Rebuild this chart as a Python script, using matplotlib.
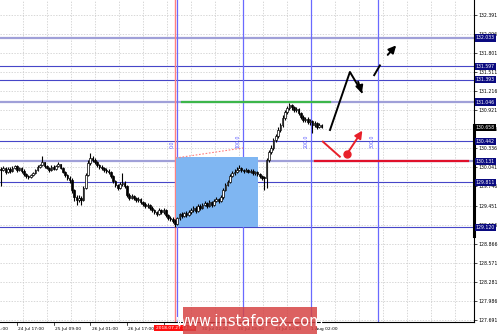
import matplotlib
matplotlib.use("Agg")
import matplotlib.pyplot as plt
import matplotlib.transforms as mtransforms
from matplotlib.patches import Rectangle

# H1 closes, bar 0 = 24 Jul 10:00
closes = [
    130.00, 130.03, 129.97, 130.02, 129.99, 130.03, 130.06, 130.00, 130.03, 129.99,
    129.94, 129.91, 129.89, 129.92, 129.95, 130.00, 130.05, 130.08, 130.12, 130.06,
    130.03, 130.00, 130.05, 130.02, 130.06, 130.09, 130.03, 129.97, 129.92, 129.88,
    129.85, 129.69, 129.58, 129.54, 129.57, 129.54, 129.72, 129.92, 130.11, 130.19,
    130.15, 130.12, 130.08, 130.05, 130.03, 130.00, 129.99, 129.97, 129.91, 129.83,
    129.77, 129.72, 129.79, 129.80, 129.75, 129.62, 129.57, 129.60, 129.57, 129.54,
    129.55, 129.51, 129.48, 129.45, 129.46, 129.42, 129.38, 129.35, 129.32, 129.38,
    129.35, 129.38, 129.31, 129.26, 129.25, 129.22, 129.17, 129.26, 129.32, 129.29,
    129.34, 129.31, 129.35, 129.38, 129.42, 129.37, 129.45, 129.42, 129.46, 129.49,
    129.45, 129.51, 129.46, 129.52, 129.55, 129.52, 129.58, 129.69, 129.77, 129.82,
    129.91, 129.95, 129.97, 130.00, 130.03, 130.00, 129.99, 130.00, 129.97, 129.99,
    129.95, 129.97, 129.94, 129.91, 129.88, 129.88, 130.15, 130.28, 130.34, 130.46,
    130.52, 130.62, 130.69, 130.80, 130.89, 130.95, 131.00, 130.97, 130.92, 130.94,
    130.88, 130.82, 130.77, 130.79, 130.74, 130.75, 130.69, 130.72, 130.66, 130.69,
    130.658,
]
highs = [
    130.05, 130.06, 130.05, 130.04, 130.04, 130.06, 130.08, 130.07, 130.05, 130.04,
    130.01, 129.96, 129.93, 129.94, 129.97, 130.02, 130.07, 130.10, 130.21, 130.13,
    130.08, 130.05, 130.07, 130.07, 130.08, 130.12, 130.10, 130.04, 129.99, 129.94,
    129.90, 129.87, 129.71, 129.61, 129.62, 129.60, 129.75, 129.95, 130.15, 130.26,
    130.22, 130.18, 130.14, 130.10, 130.07, 130.05, 130.03, 130.01, 129.99, 129.93,
    129.85, 129.79, 129.82, 129.95, 129.83, 129.77, 129.64, 129.63, 129.62, 129.59,
    129.58, 129.57, 129.53, 129.50, 129.49, 129.48, 129.44, 129.40, 129.37, 129.41,
    129.40, 129.41, 129.40, 129.33, 129.29, 129.27, 129.24, 129.28, 129.34, 129.35,
    129.36, 129.37, 129.38, 129.41, 129.45, 129.44, 129.48, 129.47, 129.49, 129.52,
    129.51, 129.54, 129.53, 129.55, 129.58, 129.57, 129.61, 129.72, 129.80, 129.85,
    129.94, 129.99, 130.02, 130.05, 130.07, 130.05, 130.02, 130.03, 130.02, 130.01,
    130.01, 129.99, 129.99, 129.96, 129.93, 129.91, 130.18, 130.31, 130.38, 130.49,
    130.56, 130.66, 130.73, 130.84, 130.93, 130.99, 131.03, 131.02, 130.99, 130.97,
    130.95, 130.90, 130.84, 130.82, 130.81, 130.78, 130.77, 130.75, 130.74, 130.72,
    130.71,
]
lows = [
    129.75, 129.98, 129.94, 129.95, 129.96, 129.97, 130.01, 129.97, 129.98, 129.96,
    129.91, 129.88, 129.86, 129.87, 129.90, 129.94, 129.98, 130.03, 130.06, 130.03,
    130.01, 129.97, 129.98, 130.00, 130.00, 130.04, 130.01, 129.95, 129.89, 129.85,
    129.80, 129.65, 129.52, 129.46, 129.50, 129.46, 129.52, 129.70, 129.90, 130.08,
    130.12, 130.09, 130.05, 130.02, 130.00, 129.97, 129.96, 129.94, 129.88, 129.80,
    129.74, 129.69, 129.70, 129.76, 129.72, 129.59, 129.54, 129.55, 129.54, 129.51,
    129.51, 129.48, 129.45, 129.42, 129.42, 129.39, 129.35, 129.32, 129.29, 129.30,
    129.32, 129.33, 129.28, 129.23, 129.21, 129.18, 129.12, 129.15, 129.23, 129.26,
    129.27, 129.28, 129.29, 129.33, 129.36, 129.34, 129.35, 129.39, 129.40, 129.44,
    129.42, 129.43, 129.43, 129.44, 129.50, 129.49, 129.50, 129.56, 129.67, 129.75,
    129.80, 129.89, 129.93, 129.95, 129.98, 129.97, 129.96, 129.97, 129.95, 129.95,
    129.93, 129.93, 129.91, 129.88, 129.84, 129.69, 129.72, 130.12, 130.25, 130.31,
    130.43, 130.49, 130.59, 130.66, 130.77, 130.86, 130.92, 130.93, 130.89, 130.90,
    130.85, 130.79, 130.74, 130.74, 130.71, 130.70, 130.57, 130.66, 130.63, 130.64,
    130.64,
]
first_open = 130.02

price_ticks = [132.391, 132.096, 131.801, 131.511, 131.216, 130.921, 130.626, 130.336,
               130.041, 129.746, 129.451, 129.156, 128.866, 128.571, 128.281, 127.986, 127.691]
levels = [132.033, 131.597, 131.393, 131.046, 130.442, 130.131, 129.811, 129.120]
thick_levels = [132.033, 131.046, 130.131]
current_price = 130.658

time_ticks = [-9, 7, 23, 39, 55, 71, 87, 103, 119, 135]
time_labels = ["24 Jul 01:00", "24 Jul 17:00", "25 Jul 09:00", "26 Jul 01:00", "26 Jul 17:00",
               "27 Jul 09:00", "30 Jul 02:00", "30 Jul 18:00", "31 Jul 10:00", "1 Aug 02:00"]

# fibo time zones (bars) and their labels
fibo_bars = [77, 105.7, 135.4, 164.6]
fibo_labels = ["0.0", "100.0", "200.0", "300.0"]
sep_bar = 76
sep_label = "2018.07.27 14:00"

fig = plt.figure(figsize=(5.0, 3.34), dpi=100)
ax = fig.add_axes([0, 12 / 334, 474 / 500, 322 / 334])
ax.set_xlim(-0.44, 206.6)
ax.set_ylim(127.66, 132.617)

for s in ("top", "left"):
    ax.spines[s].set_visible(False)
for s in ("right", "bottom"):
    ax.spines[s].set_linewidth(0.8)

# grid
for p in price_ticks:
    ax.axhline(p, color="#c8c8c8", lw=0.5, ls=(0, (2, 2)), zorder=0)
b = 9.6
while b < 207:
    ax.axvline(b, color="#c8c8c8", lw=0.5, ls=(0, (2, 2)), zorder=0)
    b += 10.48

# levels
for lv in levels:
    if lv in thick_levels:
        ax.axhline(lv, color="#a0a0d8", lw=1.6, zorder=1)
    else:
        ax.axhline(lv, color="#4646c8", lw=0.8, zorder=1)

# fibo time verticals
ax.axvline(sep_bar, color="#ff8080", lw=1.0, zorder=1)
for b, t in zip(fibo_bars, fibo_labels):
    ax.axvline(b, color="#6a6aff", lw=0.9, zorder=1)
    ax.text(b - 1.2, 130.34, t, rotation=90, fontsize=3.4, color="#5a5aff",
            ha="right", va="bottom", zorder=3)

# box and dotted line
ax.add_patch(Rectangle((76.4, 129.12), 112.2 - 76.4, 130.20 - 129.12,
                       facecolor="#7fb6f2", edgecolor="none", zorder=1))
ax.plot([76.4, 105.7], [130.185, 130.339], color="#ff8080", lw=0.8, ls=(0, (1.5, 1.5)), zorder=2)

# green / red horizontal segments
ax.plot([79, 143.7], [131.046, 131.046], color="#3cb64a", lw=1.6, zorder=2)
ax.plot([137, 204], [130.131, 130.131], color="#e0102a", lw=1.6, zorder=2)

# candles
opens = [first_open] + closes[:-1]
for i, (o, h, l, c) in enumerate(zip(opens, highs, lows, closes)):
    ax.plot([i, i], [l, h], color="black", lw=0.8, zorder=4, solid_capstyle="butt")
    lo, hi = min(o, c), max(o, c)
    ax.add_patch(Rectangle((i - 0.35, lo), 0.7, max(hi - lo, 0.006),
                           facecolor="white" if c > o else "black",
                           edgecolor="black", lw=0.5, zorder=5))

# arrows
aw = dict(lw=1.4, mutation_scale=11)
ax.plot([143.7, 152.4, 157.6], [130.616, 131.509, 131.201], color="black", lw=1.4, zorder=6)
ax.annotate("", xy=(158.0, 131.14), xytext=(155.6, 131.40),
            arrowprops=dict(arrowstyle="-|>", color="black", **aw), zorder=6)
ax.plot([163.0, 165.5], [131.46, 131.61], color="black", lw=1.4, zorder=6)
ax.annotate("", xy=(173.4, 131.95), xytext=(168.1, 131.74),
            arrowprops=dict(arrowstyle="-|>", color="black", **aw), zorder=6)

ax.plot([140.6, 148.0], [130.436, 130.205], color="#e8202a", lw=1.4, zorder=6)
ax.plot([151.1], [130.247], "o", color="#e8202a", ms=5, zorder=6)
ax.annotate("", xy=(158.5, 130.642), xytext=(151.1, 130.247),
            arrowprops=dict(arrowstyle="-|>", color="#e8202a", **aw), zorder=6)

# right price axis
ax.yaxis.tick_right()
ax.set_yticks(price_ticks)
ax.set_yticklabels([f"{p:.3f}" for p in price_ticks])
ax.tick_params(axis="y", labelsize=3.3, length=2, width=0.5, pad=1.5)
ax.set_xticks([])

yt = mtransforms.blended_transform_factory(ax.transAxes, ax.transData)
for lv in levels:
    ax.text(1.004, lv, f"{lv:.3f}", transform=yt, fontsize=3.3, color="white", va="center",
            ha="left", clip_on=False, zorder=10,
            bbox=dict(boxstyle="square,pad=0.25", fc="#0a0a80", ec="none"))
ax.text(1.004, current_price, f"{current_price:.3f}", transform=yt, fontsize=3.3, color="white",
        va="center", ha="left", clip_on=False, zorder=10,
        bbox=dict(boxstyle="square,pad=0.25", fc="black", ec="none"))
ax.plot([1.0, 1.0], [128.98, 130.70], transform=yt, color="black", lw=2.2, clip_on=False, zorder=9)

# time axis labels
xt = mtransforms.blended_transform_factory(ax.transData, ax.transAxes)
for b, t in zip(time_ticks, time_labels):
    ax.plot([b, b], [0, -0.008], transform=xt, color="black", lw=0.5, clip_on=False)
    ax.text(b + 0.6, -0.016, t, transform=xt, fontsize=3.2, color="black", va="top",
            ha="left", clip_on=False)
ax.text(sep_bar, -0.012, sep_label, transform=xt, fontsize=3.2, color="white", va="top",
        ha="center", clip_on=False, zorder=10,
        bbox=dict(boxstyle="square,pad=0.3", fc="#ff1010", ec="none"))

# watermark
fig.patches.append(Rectangle((183 / 500, 0), 134 / 500, 27 / 334, transform=fig.transFigure,
                             facecolor="#d64545", alpha=0.85, edgecolor="none", zorder=20))
fig.text(250 / 500, 13 / 334, "www.instaforex.com", fontsize=10.5, color="white",
         ha="center", va="center", zorder=21)

fig.savefig("out.png", dpi=100)
